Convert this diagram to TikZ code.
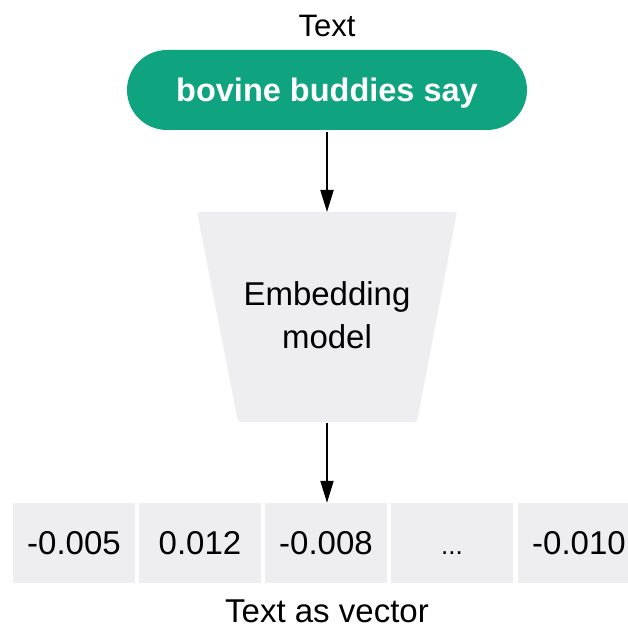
\documentclass[tikz,border=0pt]{standalone}
\usepackage{fontspec}
\setmainfont{Liberation Sans}
\usetikzlibrary{arrows.meta}
\definecolor{oaigreen}{HTML}{10A37F}
\definecolor{cellgray}{HTML}{EEEEF0}
\begin{document}
\begin{tikzpicture}[x=1pt,y=-1pt,
  conn/.style={-{Triangle[length=22pt,width=13pt]}, line width=2pt, black},
  cell/.style={fill=cellgray, minimum width=122pt, minimum height=80pt, inner sep=0pt,
    text height=23pt, text depth=0pt, font=\fontsize{33}{38}\selectfont},
  lbl/.style={inner sep=0pt, font=\fontsize{31}{36}\selectfont}]
\useasboundingbox (0,0) rectangle (628,628);
\clip (0,0) rectangle (628,628);
% title
\node[lbl, anchor=base] (title) at (327,37) {Text};
% input pill
\node[fill=oaigreen, rounded corners=40pt, minimum width=400pt, minimum height=80pt,
  text=white, text depth=0pt, inner sep=0pt, font=\bfseries\fontsize{32.5}{37}\selectfont]
  (pill) at (327,90) {bovine buddies say};
% embedding model trapezoid
\fill[cellgray, rounded corners=3pt] (197,212) -- (457,212) -- (417,422) -- (238,422) -- cycle;
\coordinate (embtop) at (327,212);
\coordinate (embbot) at (327,422);
\node[align=center, inner sep=0pt, font=\fontsize{33}{43}\selectfont] (emb) at (327,315) {Embedding\\model};
% vector cells
\node[cell] (c1) at (74,543) {-0.005};
\node[cell] (c2) at (200,543) {0.012};
\node[cell] (c3) at (326,543) {-0.008};
\node[cell, font=\fontsize{26}{30}\selectfont] (c4) at (452,543) {...};
\node[cell] (c5) at (579,543) {-0.010};
% caption
\node[lbl, anchor=base, font=\fontsize{33}{38}\selectfont] (cap) at (327,622) {Text as vector};
% connectors
\draw[conn] ([yshift=-2pt]pill.south) -- (embtop);
\draw[conn] ([yshift=-1pt]embbot) -- ([xshift=1pt]c3.north);
\end{tikzpicture}
\end{document}
